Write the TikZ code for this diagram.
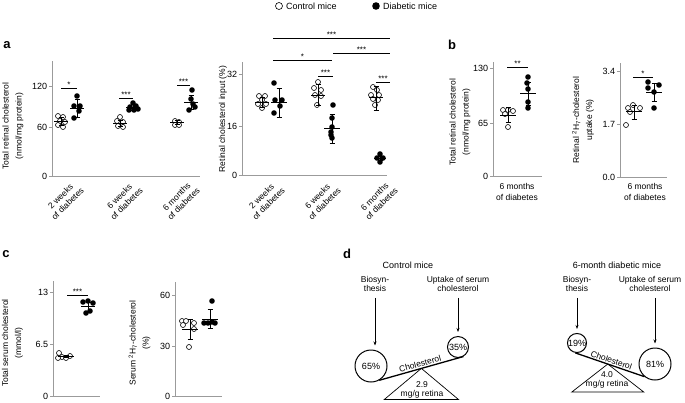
\documentclass[tikz,border=0pt]{standalone}
\usepackage{fontspec}
\setmainfont{Liberation Sans}
\usetikzlibrary{arrows.meta}
\definecolor{axisgray}{RGB}{155,155,155}

\newcommand{\meanerr}[5]{%
  \draw[mbar] (#1-#5,#2) -- (#1+#5,#2);
  \draw[mbar] (#1,#3) -- (#1,#4) (#1-2.5,#3) -- (#1+2.5,#3) (#1-2.5,#4) -- (#1+2.5,#4);
}

\begin{document}
\begin{tikzpicture}[x=1pt, y=-1pt,
    every node/.style={font=\fontsize{9}{10.5}\selectfont, inner sep=1pt},
    axln/.style={draw=axisgray, line width=0.9pt},
    tklab/.style={left, inner sep=1.5pt},
    ctl/.style={draw=black, fill=white, line width=0.6pt},
    dia/.style={fill=black},
    mbar/.style={line width=0.8pt},
    sig/.style={line width=0.7pt},
    sigtxt/.style={above, inner sep=0.3pt, font=\fontsize{8}{8}\selectfont},
    ylab/.style={rotate=90, align=center, font=\fontsize{8.5}{13}\selectfont},
    xlab/.style={rotate=45, anchor=north east, align=center, font=\fontsize{8.5}{10}\selectfont},
    blab/.style={align=center, font=\fontsize{8.5}{11}\selectfont},
    panel/.style={font=\fontsize{13}{13}\selectfont\bfseries},
    pool/.style={circle, draw, line width=1pt, inner sep=0pt},
    beam/.style={line width=1.3pt},
    flow/.style={-{Stealth[length=4pt, width=3pt]}, line width=0.6pt, shorten <=5pt, shorten >=4pt},
    fulcrum/.style={line width=0.7pt},
    dtxt/.style={align=center, font=\fontsize{8.5}{9}\selectfont}]
    \useasboundingbox (0,0) rectangle (685,402);

    \draw[ctl] (279,6) circle[radius=3.5pt];
    \node[anchor=west] (legC) at (285,6) {Control mice};
    \fill[dia] (376,6) circle[radius=3.8pt];
    \node[anchor=west] (legD) at (382,6) {Diabetic mice};

    \node[panel] (pa) at (7,45) {a};
    \node[panel] (pb) at (452,45) {b};
    \node[panel] (pc) at (6,254) {c};
    \node[panel] (pd) at (347,254) {d};

    \draw[axln] (52,61) -- (52,176) -- (200,176);
    \foreach \y/\t [count=\i] in {86/120, 127/60, 176/0}
        \draw[axln] (52,\y) -- (49,\y) node[tklab] (ta\i) {\t};
    \node[ylab] (ya) at (13,126) {Total retinal cholesterol\\(nmol/mg protein)};
    \foreach \x/\y in {58/116, 63/117, 60/121, 65/122, 58/125, 63/127}
        \draw[ctl] (\x,\y) circle[radius=2.5pt];
    \meanerr{61}{121}{117}{125}{7}
    \foreach \x/\y in {77/96, 74/106, 80/106, 79/111, 74/118}
        \fill[dia] (\x,\y) circle[radius=2.8pt];
    \meanerr{77}{108}{99}{117}{7}
    \draw[sig] (61,88) -- node[sigtxt] (sa1) {*} (77,88);
    \foreach \x/\y in {120/117, 117/121, 123/122, 118/126, 123/127}
        \draw[ctl] (\x,\y) circle[radius=2.5pt];
    \meanerr{120}{123}{120}{126}{7}
    \foreach \x/\y in {133/103, 130/107, 136/106, 129/110, 134/110, 138/109}
        \fill[dia] (\x,\y) circle[radius=2.8pt];
    \meanerr{133}{107}{104}{110}{7}
    \draw[sig] (119,98) -- node[sigtxt] (sa2) {***} (133,98);
    \foreach \x/\y in {175/121, 179/122, 175/125, 179/125}
        \draw[ctl] (\x,\y) circle[radius=2.5pt];
    \meanerr{177}{122}{120}{124}{7}
    \foreach \x/\y in {192/90, 191/99, 193/104, 195/107, 189/110}
        \fill[dia] (\x,\y) circle[radius=2.8pt];
    \meanerr{191}{102}{95}{109}{7}
    \draw[sig] (177,85) -- node[sigtxt] (sa3) {***} (190,85);
    \node[xlab] (xa1) at (73,178) {2 weeks\\of diabetes};
    \node[xlab] (xa2) at (132,178) {6 weeks\\of diabetes};
    \node[xlab] (xa3) at (189,178) {6 months\\of diabetes};

    \draw[axln] (242,62) -- (242,175) -- (387,175);
    \foreach \y/\t [count=\i] in {74/32, 126/16, 175/0}
        \draw[axln] (242,\y) -- (239,\y) node[tklab] (tb\i) {\t};
    \node[ylab] (yb) at (223,119) {Retinal cholesterol input (\%)};
    \foreach \x/\y in {259/96, 265/96, 262/100, 258/104, 266/104, 262/108}
        \draw[ctl] (\x,\y) circle[radius=2.5pt];
    \meanerr{262}{102}{97}{107}{7}
    \foreach \x/\y in {274/83, 275/100, 282/100, 280/106, 274/113}
        \fill[dia] (\x,\y) circle[radius=2.8pt];
    \meanerr{279}{102}{88}{117}{8}
    \foreach \x/\y in {318/82, 314/88, 321/90, 315/95, 321/96, 317/105}
        \draw[ctl] (\x,\y) circle[radius=2.5pt];
    \meanerr{318}{95}{84}{105}{7}
    \foreach \x/\y in {333/105, 332/118, 332/127, 331/132, 331/135, 332/138}
        \fill[dia] (\x,\y) circle[radius=2.8pt];
    \meanerr{332}{128}{114}{143}{8}
    \foreach \x/\y in {373/87, 377/90, 371/95, 379/95, 373/99, 378/100, 375/105}
        \draw[ctl] (\x,\y) circle[radius=2.5pt];
    \meanerr{376}{97}{86}{110}{7}
    \foreach \x/\y in {380/154, 377/158, 383/158, 380/162}
        \fill[dia] (\x,\y) circle[radius=2.8pt];
    \meanerr{380}{158}{156}{160}{6}
    \draw[sig] (273,38) -- node[sigtxt] (sb1) {***} (390,38);
    \draw[sig] (273,60) -- node[sigtxt] (sb2) {*} (332,60);
    \draw[sig] (333,53) -- node[sigtxt] (sb3) {***} (390,53);
    \draw[sig] (318,76) -- node[sigtxt] (sb4) {***} (333,76);
    \draw[sig] (376,82) -- node[sigtxt] (sb5) {***} (390,82);
    \node[xlab] (xb1) at (274,178) {2 weeks\\of diabetes};
    \node[xlab] (xb2) at (330,178) {6 weeks\\of diabetes};
    \node[xlab] (xb3) at (387,178) {6 months\\of diabetes};

    \draw[axln] (493,62) -- (493,176) -- (542,176);
    \foreach \y/\t [count=\i] in {68/130, 123/65, 176/0}
        \draw[axln] (493,\y) -- (490,\y) node[tklab] (tc\i) {\t};
    \node[ylab] (yc) at (460,122) {Total retinal cholesterol\\(nmol/mg protein)};
    \foreach \x/\y in {503/110, 508/110, 513/111, 505/114, 508/127}
        \draw[ctl] (\x,\y) circle[radius=2.5pt];
    \meanerr{508}{115}{107}{122}{8}
    \foreach \x/\y in {528/77, 527/83, 528/89, 528/102, 528/108}
        \fill[dia] (\x,\y) circle[radius=2.8pt];
    \meanerr{528}{93}{82}{105}{8}
    \draw[sig] (507,67) -- node[sigtxt] (sc1) {**} (528,67);
    \node[blab] (xc1) at (517,192) {6 months\\of diabetes};

    \draw[axln] (620,63) -- (620,177) -- (667,177);
    \foreach \y/\t [count=\i] in {71/3.4, 124/1.7, 177/0.0}
        \draw[axln] (620,\y) -- (617,\y) node[tklab] (td\i) {\t};
    \node[ylab] (yd) at (583,120) {Retinal \textsuperscript{2}H\textsubscript{7}-cholesterol\\uptake (\%)};
    \foreach \x/\y in {628/108, 633/105, 640/108, 630/112, 626/125}
        \draw[ctl] (\x,\y) circle[radius=2.5pt];
    \meanerr{634}{111}{105}{119}{8}
    \foreach \x/\y in {648/82, 659/85, 648/88, 654/92, 654/108}
        \fill[dia] (\x,\y) circle[radius=2.8pt];
    \meanerr{654}{92}{83}{101}{8}
    \draw[sig] (633,77) -- node[sigtxt] (sd1) {*} (653,77);
    \node[blab] (xd1) at (645,192) {6 months\\of diabetes};

    \draw[axln] (53,281) -- (53,396) -- (100,396);
    \foreach \y/\t [count=\i] in {292/13, 344/6.5, 396/0}
        \draw[axln] (53,\y) -- (50,\y) node[tklab] (te\i) {\t};
    \node[ylab] (ye) at (12.5,343) {Total serum cholesterol\\(mmol/l)};
    \foreach \x/\y in {59/353, 62/357, 66/358, 70/356, 58/358}
        \draw[ctl] (\x,\y) circle[radius=2.5pt];
    \meanerr{66}{356}{355}{357}{8}
    \foreach \x/\y in {83/302, 88/301, 93/303, 86/313, 90/311}
        \fill[dia] (\x,\y) circle[radius=2.8pt];
    \meanerr{88}{306}{302}{311}{7}
    \draw[sig] (67,295) -- node[sigtxt] (se1) {***} (88,295);

    \draw[axln] (175,282) -- (175,396) -- (222,396);
    \foreach \y/\t [count=\i] in {295/60, 346/30, 396/0}
        \draw[axln] (175,\y) -- (172,\y) node[tklab] (tf\i) {\t};
    \node[ylab] (yf) at (139.5,343) {Serum \textsuperscript{2}H\textsubscript{7}-cholesterol\\(\%)};
    \foreach \x/\y in {182/321, 186/321, 183/325, 194/323, 194/329, 189/347}
        \draw[ctl] (\x,\y) circle[radius=2.5pt];
    \meanerr{190}{329}{319}{339}{8}
    \foreach \x/\y in {212/301, 204/323, 208/323, 212/322, 215/323}
        \fill[dia] (\x,\y) circle[radius=2.8pt];
    \meanerr{210}{319}{309}{328}{8}

    \node (ttlA) at (408,265) {Control mice};
    \node[dtxt] (bioA) at (375,284) {Biosyn-\\thesis};
    \node[dtxt] (uptA) at (458,284) {Uptake of serum\\cholesterol};
    \node[pool, minimum size=32pt] (pA1) at (371,366) {65\%};
    \node[pool, minimum size=21pt] (pA2) at (458,347) {35\%};
    \draw[flow] (bioA.south) -- (bioA.south |- pA1.north);
    \draw[flow] (uptA.south) -- (uptA.south |- pA2.north);
    \draw[beam] (pA1.-60) -- node[sloped, above, dtxt] (chA) {Cholesterol} coordinate[pos=0.5] (pivA) (pA2.-60);
    \draw[fulcrum] (pivA) -- ++(-37,31) -- ++(74,0) -- cycle;
    \node[dtxt] (amtA) at (422,390) {2.9\\mg/g retina};

    \node (ttlB) at (617,265) {6-month diabetic mice};
    \node[dtxt] (bioB) at (577,284) {Biosyn-\\thesis};
    \node[dtxt] (uptB) at (650,284) {Uptake of serum\\cholesterol};
    \node[pool, minimum size=15pt] (pB1) at (577,343) {19\%};
    \node[pool, minimum size=32pt] (pB2) at (655,364) {81\%};
    \draw[flow] (bioB.south) -- (bioB.south |- pB1.north);
    \draw[flow] (uptB.south -| pB2.north) -- (pB2.north);
    \draw[beam] (pB1.-100) -- node[sloped, above, dtxt] (chB) {Cholesterol} coordinate[pos=0.47] (pivB) (pB2.-130);
    \draw[fulcrum] (pivB) -- ++(-36,28) -- ++(72,0) -- cycle;
    \node[dtxt] (amtB) at (607,380) {4.0\\mg/g retina};
\end{tikzpicture}
\end{document}
